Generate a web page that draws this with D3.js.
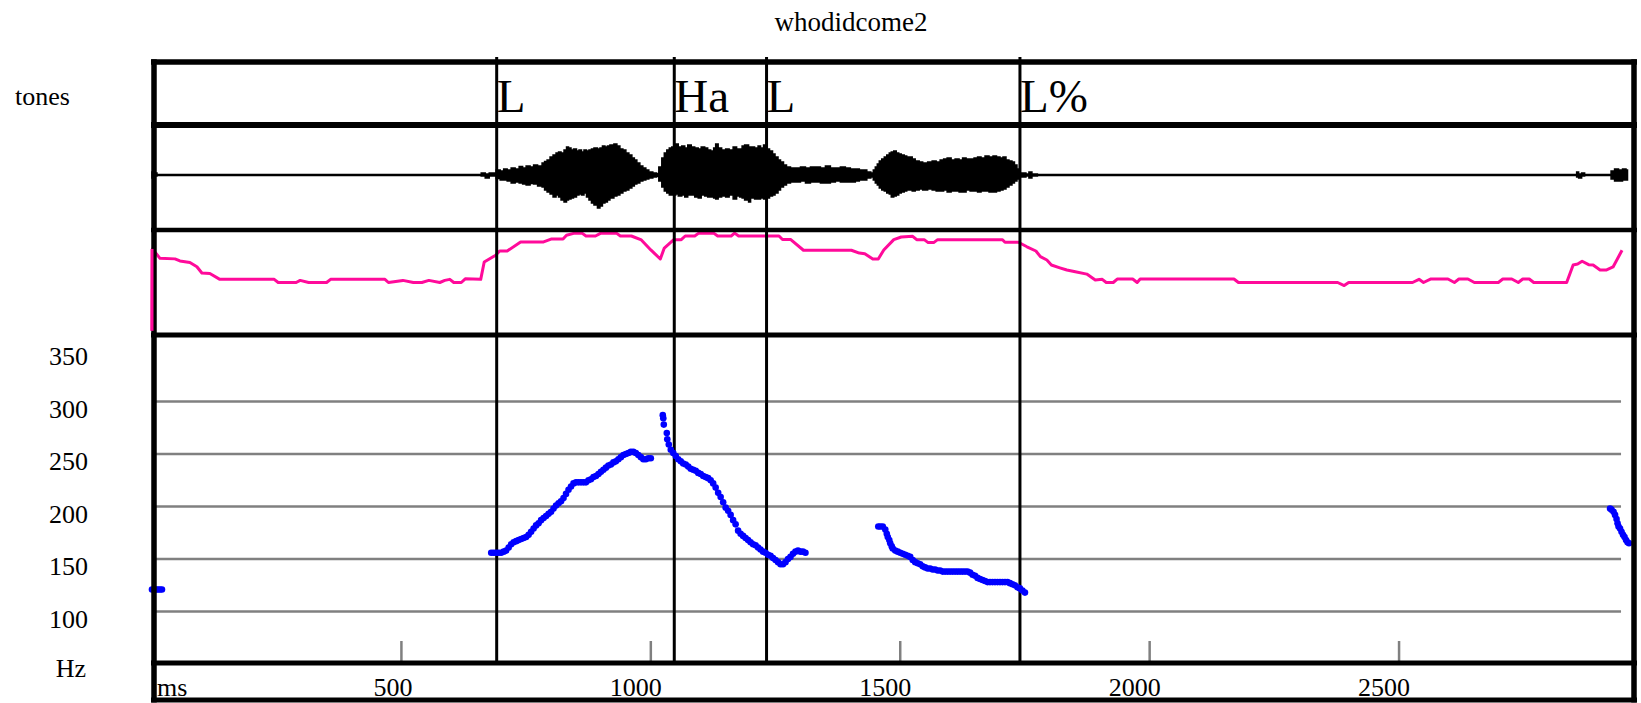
<!DOCTYPE html>
<html>
<head>
<meta charset="utf-8">
<script src="https://cdn.jsdelivr.net/npm/d3@7"></script>
<style>
    html, body { margin: 0; padding: 0; background: #fff; }
    svg { display: block; }
    text { font-family: "Liberation Serif", "Times New Roman", serif; fill: #000; }
</style>
</head>
<body>
<div class="chart"></div>
<script>
var title = 'whodidcome2';

// tone tier
var toneLabels = ['L', 'Ha', 'L', 'L%'];
var toneTimes = [691, 1047, 1232, 1740];

// axis ticks
var hzTicks = [100, 150, 200, 250, 300, 350];
var hzGrid = [100, 150, 200, 250, 300];
var msTicks = [500, 1000, 1500, 2000, 2500];

// waveform envelope: [ms, upper, lower] (amplitude, 1 = half tier height)
var waveEnvelope = [
    [0, 0.06, 0.06], [6, 0.04, 0.02], [10, 0.01, 0.01], [640, 0.01, 0.01],
    [650, 0.01, 0.01], [660, 0.04, 0.02], [668, 0.02, 0.06], [676, 0.04, 0.02],
    [690, 0.10, 0.07], [698, 0.08, 0.10], [705, 0.12, 0.10], [712, 0.10, 0.12],
    [720, 0.14, 0.16], [728, 0.12, 0.14], [736, 0.17, 0.16], [743, 0.14, 0.18],
    [750, 0.18, 0.20], [758, 0.16, 0.17], [765, 0.20, 0.18], [773, 0.18, 0.22],
    [782, 0.24, 0.24], [787, 0.27, 0.30], [792, 0.30, 0.34], [798, 0.36, 0.38],
    [804, 0.40, 0.44], [810, 0.44, 0.40], [815, 0.46, 0.44], [820, 0.44, 0.50],
    [826, 0.50, 0.54], [831, 0.56, 0.50], [835, 0.54, 0.48], [840, 0.50, 0.46],
    [845, 0.52, 0.44], [851, 0.48, 0.40], [856, 0.50, 0.38], [861, 0.46, 0.40],
    [866, 0.50, 0.36], [871, 0.48, 0.44], [876, 0.50, 0.50], [881, 0.52, 0.56],
    [886, 0.54, 0.60], [893, 0.52, 0.66], [898, 0.54, 0.62], [903, 0.58, 0.56],
    [908, 0.56, 0.54], [913, 0.58, 0.50], [918, 0.60, 0.46], [926, 0.62, 0.42],
    [932, 0.58, 0.40], [938, 0.52, 0.36], [944, 0.50, 0.32], [950, 0.44, 0.30],
    [956, 0.40, 0.26], [962, 0.34, 0.22], [967, 0.30, 0.18], [972, 0.24, 0.16],
    [978, 0.18, 0.12], [984, 0.14, 0.10], [990, 0.10, 0.08], [996, 0.06, 0.06],
    [1004, 0.04, 0.04], [1011, 0.03, 0.03], [1016, 0.16, 0.12], [1022, 0.34, 0.24],
    [1027, 0.44, 0.32], [1032, 0.50, 0.36], [1037, 0.54, 0.40], [1042, 0.56, 0.40],
    [1050, 0.62, 0.38], [1055, 0.56, 0.42], [1062, 0.58, 0.40], [1068, 0.54, 0.44],
    [1074, 0.60, 0.40], [1081, 0.56, 0.40], [1088, 0.54, 0.44], [1095, 0.52, 0.46],
    [1101, 0.56, 0.40], [1108, 0.54, 0.42], [1114, 0.50, 0.44], [1120, 0.48, 0.44],
    [1126, 0.54, 0.46], [1130, 0.62, 0.48], [1135, 0.54, 0.44], [1142, 0.50, 0.42],
    [1150, 0.52, 0.44], [1157, 0.50, 0.40], [1165, 0.56, 0.48], [1172, 0.52, 0.42],
    [1178, 0.52, 0.44], [1183, 0.58, 0.46], [1188, 0.60, 0.50], [1196, 0.56, 0.54],
    [1200, 0.56, 0.46], [1208, 0.54, 0.48], [1215, 0.58, 0.48], [1220, 0.54, 0.46],
    [1226, 0.60, 0.48], [1232, 0.52, 0.46], [1238, 0.48, 0.42], [1244, 0.42, 0.40],
    [1249, 0.36, 0.36], [1255, 0.30, 0.30], [1260, 0.26, 0.24], [1266, 0.20, 0.20],
    [1272, 0.16, 0.16], [1280, 0.14, 0.14], [1290, 0.14, 0.14], [1300, 0.16, 0.12],
    [1310, 0.14, 0.16], [1320, 0.16, 0.14], [1330, 0.16, 0.14], [1340, 0.14, 0.16],
    [1350, 0.18, 0.16], [1360, 0.14, 0.14], [1370, 0.14, 0.12], [1380, 0.16, 0.14],
    [1390, 0.14, 0.14], [1400, 0.12, 0.14], [1410, 0.12, 0.12], [1418, 0.10, 0.10],
    [1425, 0.10, 0.10], [1433, 0.06, 0.06], [1441, 0.04, 0.04], [1446, 0.10, 0.10],
    [1450, 0.16, 0.16], [1454, 0.22, 0.20], [1458, 0.28, 0.26], [1463, 0.32, 0.30],
    [1468, 0.36, 0.32], [1473, 0.40, 0.36], [1478, 0.44, 0.38], [1482, 0.46, 0.44],
    [1487, 0.48, 0.42], [1492, 0.44, 0.40], [1497, 0.42, 0.36], [1502, 0.40, 0.34],
    [1508, 0.38, 0.32], [1513, 0.36, 0.30], [1518, 0.36, 0.30], [1524, 0.32, 0.32],
    [1530, 0.28, 0.30], [1538, 0.26, 0.28], [1545, 0.24, 0.30], [1555, 0.26, 0.28],
    [1564, 0.28, 0.30], [1572, 0.26, 0.32], [1580, 0.30, 0.32], [1587, 0.32, 0.30],
    [1594, 0.34, 0.34], [1602, 0.30, 0.32], [1610, 0.32, 0.32], [1618, 0.30, 0.34],
    [1625, 0.34, 0.34], [1632, 0.32, 0.30], [1640, 0.32, 0.32], [1648, 0.34, 0.32],
    [1655, 0.36, 0.34], [1662, 0.34, 0.32], [1670, 0.38, 0.32], [1678, 0.36, 0.34],
    [1686, 0.38, 0.34], [1693, 0.36, 0.32], [1700, 0.34, 0.30], [1706, 0.36, 0.28],
    [1712, 0.30, 0.24], [1718, 0.28, 0.20], [1724, 0.26, 0.16], [1729, 0.20, 0.12],
    [1734, 0.12, 0.08], [1740, 0.04, 0.04], [1752, 0.02, 0.02], [1758, 0.06, 0.06],
    [1764, 0.02, 0.02], [1775, 0.01, 0.01], [2850, 0.01, 0.01], [2856, 0.06, 0.04],
    [2860, 0.02, 0.06], [2866, 0.04, 0.02], [2872, 0.01, 0.01], [2920, 0.01, 0.01],
    [2925, 0.08, 0.08], [2932, 0.12, 0.12], [2940, 0.10, 0.12], [2948, 0.12, 0.10],
    [2955, 0.10, 0.10], [2958, 0.01, 0.01]
];

// intensity track: [ms, dB]
var intensity = [
    [0, 4], [1, 82], [16, 73], [46, 72.5], [56, 70.5], [76, 69], [90, 65], [100, 59],
    [116, 58.5], [136, 53], [245, 53], [253, 50], [289, 50], [297, 52], [314, 50],
    [350, 50], [358, 53], [467, 53], [474, 50], [503, 52], [524, 50], [541, 50],
    [555, 52], [577, 50], [587, 52], [597, 53], [605, 50], [620, 50], [628, 53.5],
    [659, 53], [666, 69.5], [689, 76], [697, 80], [712, 80], [739, 88.6], [785, 88.6],
    [800, 91.4], [824, 91.4], [831, 95], [847, 97], [862, 97], [870, 94.3], [889, 94.3],
    [900, 97], [931, 97], [939, 94.3], [961, 94.3], [981, 90.5], [1000, 81], [1019, 72.4],
    [1027, 82.8], [1046, 90.8], [1061, 90.8], [1069, 94.3], [1088, 94.3], [1096, 97],
    [1126, 97], [1134, 94.3], [1161, 94.3], [1168, 97], [1176, 94.3], [1257, 94.3],
    [1264, 91], [1280, 91], [1306, 80.7], [1402, 80.7], [1418, 78], [1429, 77.4],
    [1445, 72.4], [1456, 72.4], [1467, 81], [1487, 90.8], [1502, 93.3], [1525, 94],
    [1533, 90.8], [1548, 90.8], [1556, 88], [1567, 88], [1575, 90.8], [1705, 90.8],
    [1710, 88.3], [1737, 88.3], [1754, 84], [1772, 80], [1781, 74.6], [1794, 71.4],
    [1803, 66.7], [1820, 64], [1834, 61.9], [1851, 60.3], [1874, 58], [1891, 52.4],
    [1905, 53], [1913, 50], [1927, 50], [1935, 53.3], [1966, 53.3], [1975, 50],
    [1981, 53.3], [2169, 53.3], [2178, 50], [2377, 50], [2390, 47.1], [2399, 50],
    [2527, 50], [2540, 53], [2549, 50], [2563, 53.3], [2598, 53.3], [2611, 50],
    [2620, 53.3], [2638, 53.3], [2651, 50], [2699, 50], [2708, 53.3], [2726, 53.3],
    [2739, 50], [2748, 53.3], [2761, 53.3], [2770, 50], [2836, 50], [2849, 66.7],
    [2858, 67.6], [2867, 70.2], [2880, 67], [2889, 66.7], [2903, 61.9], [2915, 61.9],
    [2929, 64.8], [2947, 80.7]
];

// pitch track: [ms, Hz]
var f0Start = [[0, 121], [4, 121], [8, 121], [12, 121], [16, 121], [20, 121]];
var f0Rise = [
    [680, 156], [685, 156], [690, 156], [695, 156], [700, 156], [705, 157], [710, 158],
    [715, 161], [720, 164], [725, 166], [730, 167], [735, 168], [740, 169], [745, 170],
    [750, 171], [755, 173], [760, 176], [765, 179], [770, 182], [775, 184], [780, 187],
    [785, 189], [790, 191], [795, 193], [800, 195], [805, 198], [810, 201], [815, 203],
    [820, 205], [825, 208], [830, 212], [835, 216], [840, 219], [845, 222], [850, 223],
    [855, 223], [860, 223], [865, 223], [870, 223], [875, 225], [880, 226], [885, 228],
    [890, 229], [895, 231], [900, 233], [905, 235], [910, 237], [915, 239], [920, 240],
    [925, 242], [930, 243], [935, 245], [940, 247], [945, 249], [950, 250], [955, 251],
    [960, 252], [965, 252], [970, 251], [975, 249], [980, 247], [985, 245], [990, 245],
    [995, 246], [1000, 246]
];
var f0Fall = [
    [1024, 287], [1025, 284], [1026, 278], [1032, 270], [1033, 264], [1036, 259],
    [1040, 254], [1045, 251], [1050, 248], [1055, 245], [1060, 243], [1065, 241],
    [1070, 240], [1075, 238], [1080, 236], [1085, 235], [1090, 234], [1095, 232],
    [1100, 231], [1105, 229], [1110, 228], [1115, 227], [1120, 225], [1125, 222],
    [1130, 218], [1135, 213], [1140, 209], [1145, 204], [1150, 199], [1155, 196],
    [1160, 192], [1165, 187], [1170, 183], [1175, 177], [1180, 174], [1185, 172],
    [1190, 170], [1195, 168], [1200, 166], [1205, 164], [1210, 163], [1215, 161],
    [1220, 159], [1225, 157], [1230, 156], [1235, 154], [1240, 153], [1245, 151],
    [1250, 149], [1255, 147], [1260, 145], [1265, 145], [1270, 147], [1275, 150],
    [1280, 152], [1285, 155], [1290, 157], [1295, 158], [1300, 157], [1305, 157],
    [1310, 156]
];
var f0Come = [
    [1456, 181], [1460, 181], [1465, 181], [1470, 178], [1473, 174], [1475, 171],
    [1478, 168], [1480, 165], [1483, 162], [1485, 160], [1490, 158], [1495, 157],
    [1500, 156], [1505, 155], [1510, 154], [1515, 153], [1520, 152], [1525, 149],
    [1530, 147], [1535, 146], [1540, 145], [1545, 143], [1550, 142], [1555, 141],
    [1560, 141], [1565, 140], [1570, 140], [1575, 139], [1580, 139], [1585, 138],
    [1590, 138], [1595, 138], [1600, 138], [1605, 138], [1610, 138], [1615, 138],
    [1620, 138], [1625, 138], [1630, 138], [1635, 138], [1640, 137], [1645, 135],
    [1650, 134], [1655, 132], [1660, 131], [1665, 130], [1670, 129], [1675, 128],
    [1680, 128], [1685, 128], [1690, 128], [1695, 128], [1700, 128], [1705, 128],
    [1710, 128], [1715, 128], [1720, 127], [1725, 126], [1730, 125], [1735, 123],
    [1740, 122], [1745, 120], [1750, 118]
];
var f0End = [
    [2923, 198], [2926, 197], [2930, 195], [2933, 192], [2936, 188], [2938, 184],
    [2940, 181], [2943, 179], [2946, 176], [2949, 173], [2952, 171], [2955, 168],
    [2958, 166], [2961, 165]
];

var width = 1641, height = 703;

/* tier layout */
var frameLeft = 154, frameRight = 1634;
var frameTop = 62, toneBottom = 125, waveBottom = 230, pitchTop = 335, pitchBottom = 663, axisBottom = 700;

var x = d3.scaleLinear().domain([0, 2975]).range([152, 1636]);
var yHz = d3.scaleLinear().domain([50, 350]).range([664, 349]);
var yDb = d3.scaleLinear().domain([0, 100]).range([335, 230]);
var waveMid = 175;
var yWave = d3.scaleLinear().domain([-1, 1]).range([waveMid + 50, waveMid - 50]);

var svg = d3.select('.chart').append('svg')
    .attr('width', width)
    .attr('height', height);

svg.append('text')
    .attr('x', 851)
    .attr('y', 31)
    .attr('text-anchor', 'middle')
    .style('font-size', '27px')
    .text(title);

svg.append('text')
    .attr('x', 15)
    .attr('y', 105)
    .style('font-size', '26px')
    .text('tones');

/* Hz gridlines */
svg.append('g').selectAll('line')
    .data(hzGrid)
    .enter().append('line')
    .attr('x1', frameLeft + 2)
    .attr('x2', x(2945))
    .attr('y1', function (d) { return yHz(d); })
    .attr('y2', function (d) { return yHz(d); })
    .attr('stroke', '#808080')
    .attr('stroke-width', 2.5);

/* Hz labels */
svg.append('g').selectAll('text')
    .data(hzTicks)
    .enter().append('text')
    .attr('x', 88)
    .attr('y', function (d) { return yHz(d) + 16; })
    .attr('text-anchor', 'end')
    .style('font-size', '26px')
    .text(function (d) { return d; });

svg.append('text')
    .attr('x', 86)
    .attr('y', 677)
    .attr('text-anchor', 'end')
    .style('font-size', '26px')
    .text('Hz');

/* ms ticks */
svg.append('g').selectAll('line')
    .data(msTicks)
    .enter().append('line')
    .attr('x1', function (d) { return x(d); })
    .attr('x2', function (d) { return x(d); })
    .attr('y1', 641)
    .attr('y2', pitchBottom)
    .attr('stroke', '#808080')
    .attr('stroke-width', 2.5);

svg.append('g').selectAll('text')
    .data(msTicks)
    .enter().append('text')
    .attr('x', function (d) { return x(d) + 11; })
    .attr('y', 696)
    .attr('text-anchor', 'end')
    .style('font-size', '26px')
    .text(function (d) { return d; });

svg.append('text')
    .attr('x', 157)
    .attr('y', 696)
    .style('font-size', '26px')
    .text('ms');

/* waveform */
svg.append('line')
    .attr('x1', x(0))
    .attr('x2', x(2958))
    .attr('y1', waveMid)
    .attr('y2', waveMid)
    .attr('stroke', '#000')
    .attr('stroke-width', 2);

var waveArea = d3.area()
    .curve(d3.curveStepAfter)
    .x(function (d) { return x(d[0]); })
    .y0(function (d) { return yWave(-d[2]); })
    .y1(function (d) { return yWave(d[1]); });

svg.append('path')
    .datum(waveEnvelope)
    .attr('d', waveArea)
    .attr('fill', '#000')
    .attr('stroke', '#000')
    .attr('stroke-width', 1.5);

/* intensity */
var dbLine = d3.line()
    .x(function (d) { return x(d[0]); })
    .y(function (d) { return yDb(d[1]); });

svg.append('path')
    .datum(intensity)
    .attr('d', dbLine)
    .attr('fill', 'none')
    .attr('stroke', '#ff0a9a')
    .attr('stroke-width', 3)
    .attr('stroke-linejoin', 'round');

/* tone boundaries */
svg.append('g').selectAll('line')
    .data(toneTimes)
    .enter().append('line')
    .attr('x1', function (d) { return x(d); })
    .attr('x2', function (d) { return x(d); })
    .attr('y1', 57)
    .attr('y2', pitchBottom)
    .attr('stroke', '#000')
    .attr('stroke-width', 3);

svg.append('g').selectAll('text')
    .data(toneTimes)
    .enter().append('text')
    .attr('x', function (d) { return x(d); })
    .attr('y', 112)
    .style('font-size', '47px')
    .text(function (d, i) { return toneLabels[i]; });

/* pitch dots */
var f0Segments = [f0Start, f0Rise, f0Fall, f0Come, f0End];
var dots = svg.append('g');
for (var i = 0; i < f0Segments.length; i++) {
    dots.selectAll(null)
        .data(f0Segments[i])
        .enter().append('circle')
        .attr('cx', function (d) { return x(d[0]); })
        .attr('cy', function (d) { return yHz(d[1]); })
        .attr('r', 3.3)
        .attr('fill', '#0000ff');
}

/* frame */
var frame = svg.append('g').attr('stroke', '#000');
var hRules = [
    { y: frameTop, w: 5.5 },
    { y: toneBottom, w: 6 },
    { y: waveBottom, w: 4.5 },
    { y: pitchTop, w: 5 },
    { y: pitchBottom, w: 5 },
    { y: axisBottom, w: 5 }
];
frame.selectAll('line.h')
    .data(hRules)
    .enter().append('line')
    .attr('x1', frameLeft - 3)
    .attr('x2', frameRight + 3)
    .attr('y1', function (d) { return d.y; })
    .attr('y2', function (d) { return d.y; })
    .attr('stroke-width', function (d) { return d.w; });

frame.selectAll('line.v')
    .data([frameLeft, frameRight])
    .enter().append('line')
    .attr('x1', function (d) { return d; })
    .attr('x2', function (d) { return d; })
    .attr('y1', frameTop - 2.75)
    .attr('y2', axisBottom + 2.5)
    .attr('stroke-width', 5.5);

/* the intensity track starts with a vertical drop drawn over the frame */
svg.append('line')
    .attr('x1', x(0))
    .attr('x2', x(0))
    .attr('y1', yDb(intensity[1][1]))
    .attr('y2', yDb(intensity[0][1]))
    .attr('stroke', '#ff0a9a')
    .attr('stroke-width', 3);
</script>
</body>
</html>
